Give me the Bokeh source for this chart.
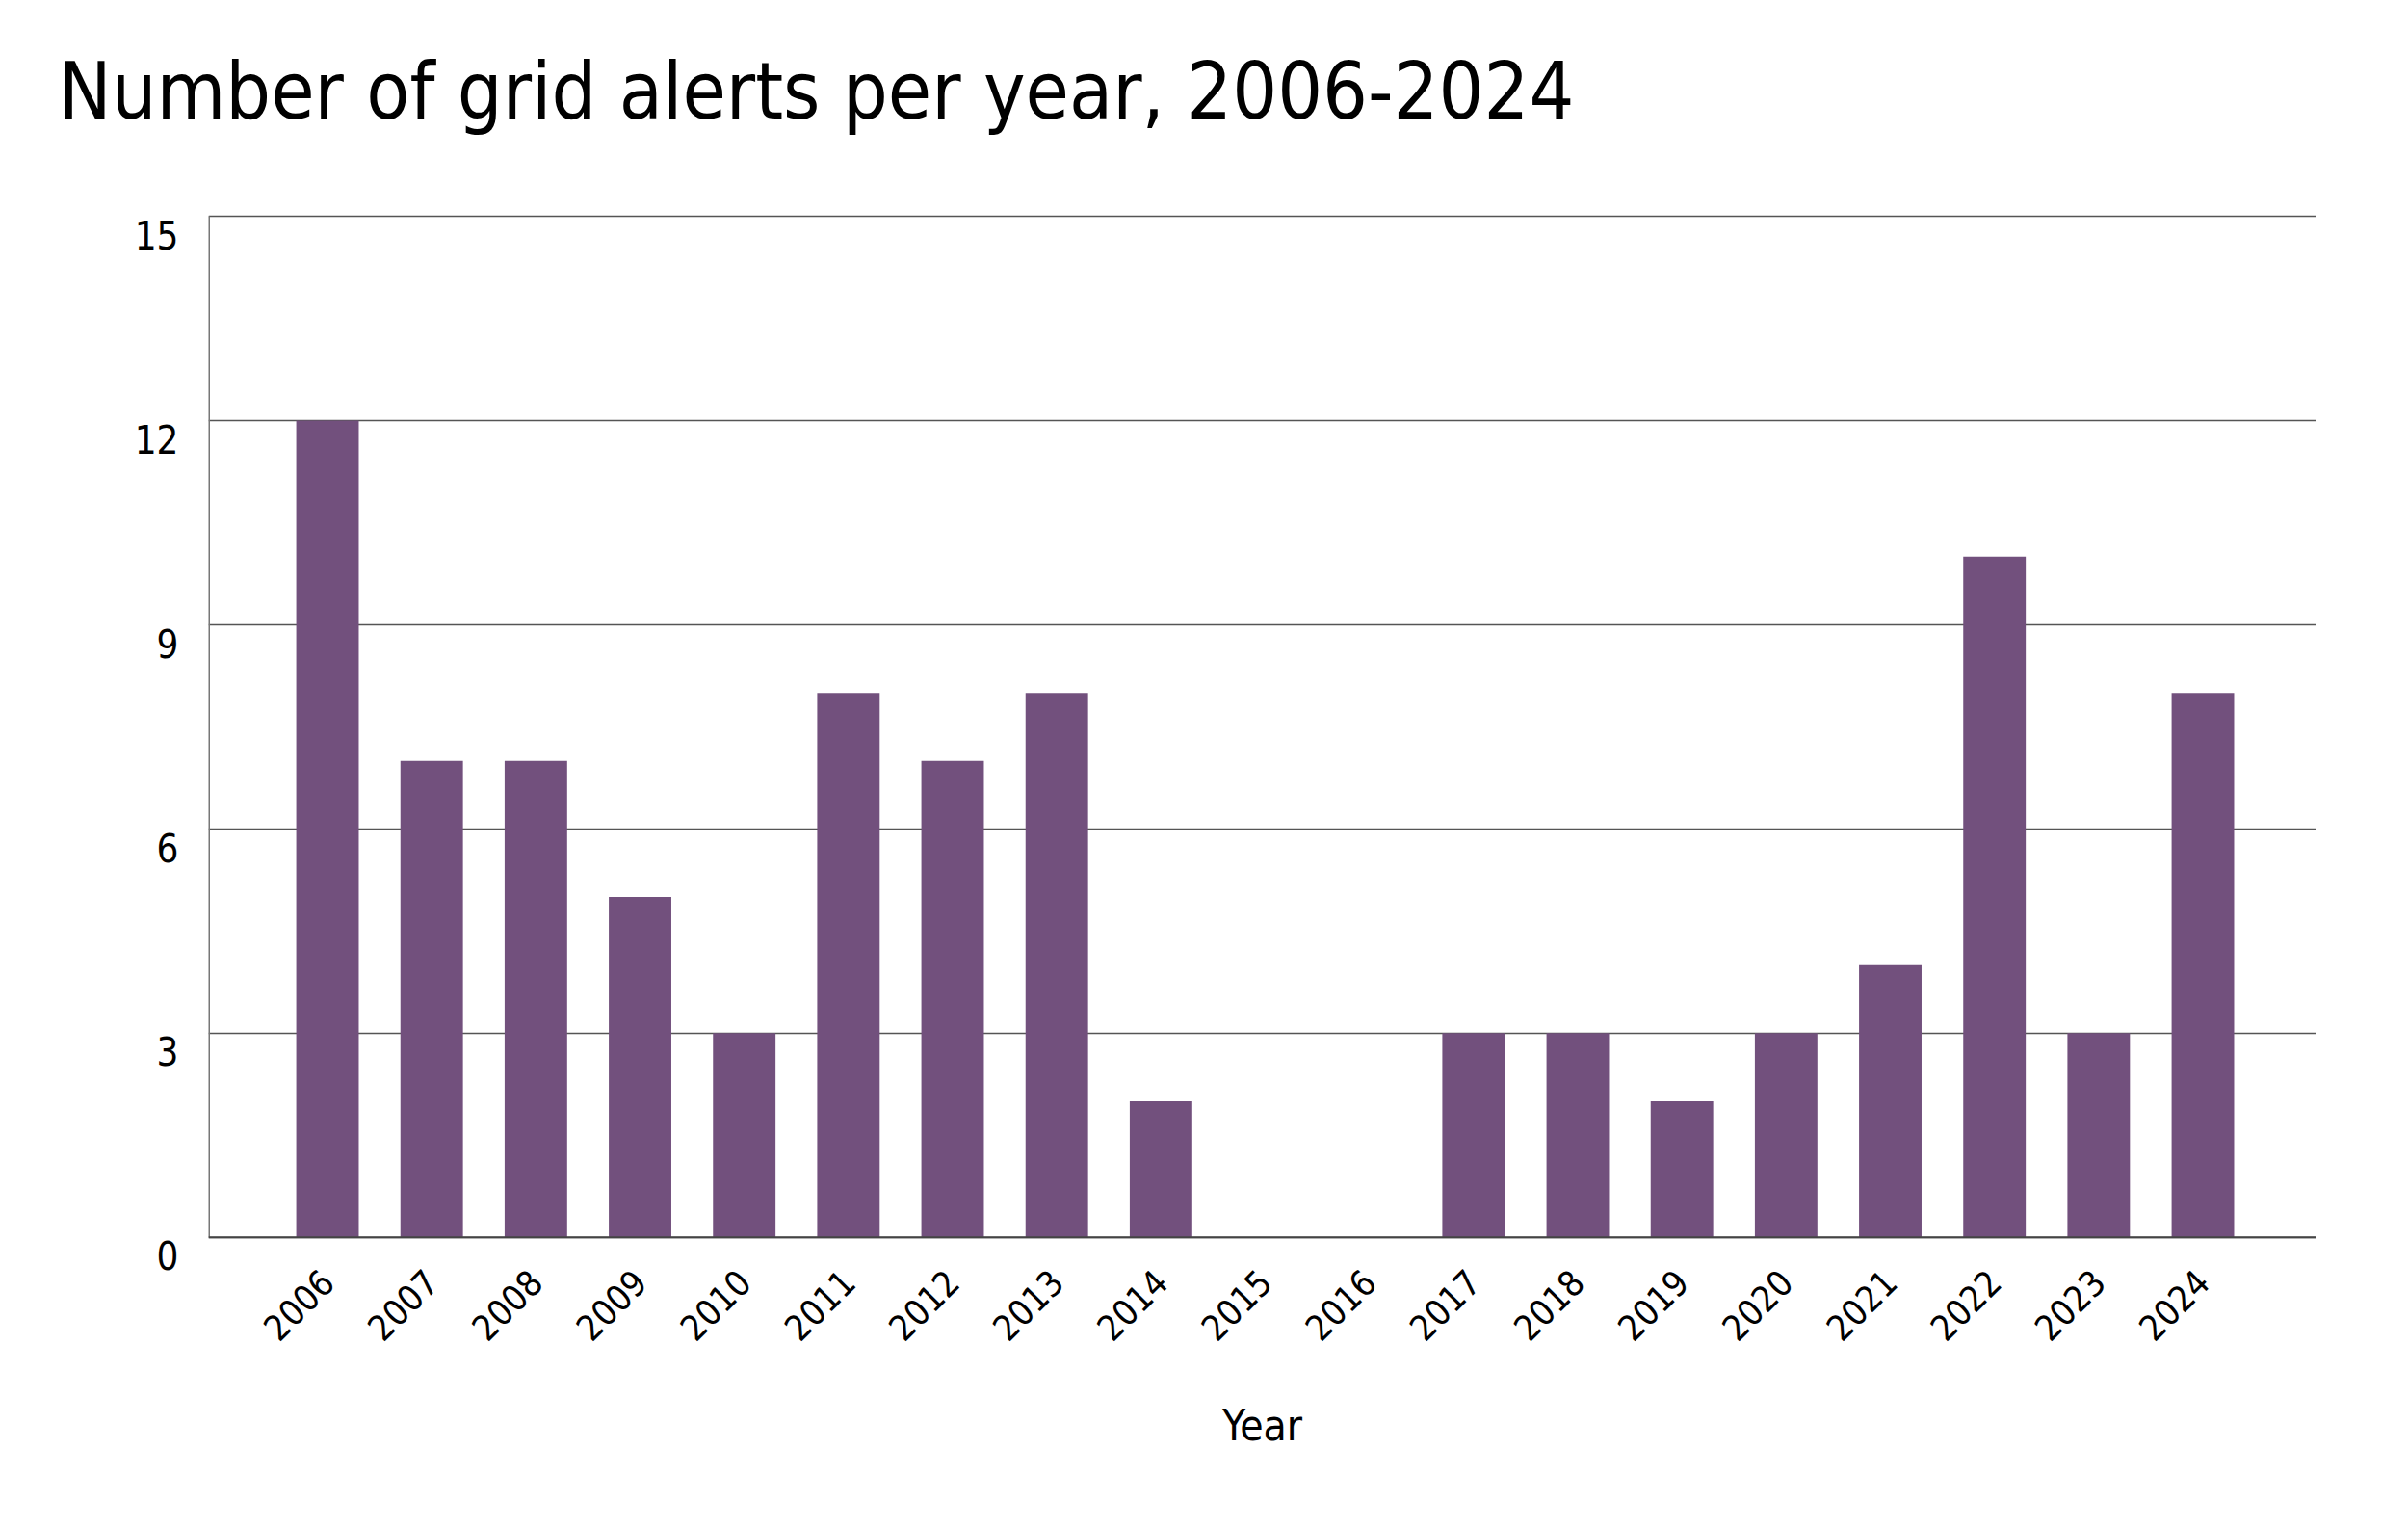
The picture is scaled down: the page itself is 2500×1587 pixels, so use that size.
import math
from bokeh.plotting import figure
from bokeh.models import Range1d, FixedTicker, Span
from bokeh.embed import file_html
from bokeh.resources import INLINE

years = [2006, 2007, 2008, 2009, 2010, 2011, 2012, 2013, 2014, 2015,
         2016, 2017, 2018, 2019, 2020, 2021, 2022, 2023, 2024]
alerts = [12, 7, 7, 5, 3, 8, 7, 8, 2, 0, 0, 3, 3, 2, 3, 4, 10, 3, 8]
y_ticks = [0, 3, 6, 9, 12, 15]
title_text = "Number of grid alerts per year, 2006-2024"
x_label = "Year"

FONT = "'DejaVu Sans Condensed', 'Liberation Sans Narrow', sans-serif"
BAR = "#72507d"
GRID = "#555555"

X_START, X_END = 2004.858, 2025.086
Y_LABEL_SHIFT = 0.27   # y tick labels sit just below their gridline
Y_BOTTOM, Y_TOP = -0.30, 15.03

p = figure(width=2480, height=1570, output_backend="svg", toolbar_location=None,
           x_range=Range1d(X_START, X_END), y_range=Range1d(Y_BOTTOM, Y_TOP),
           min_border_left=216, min_border_right=76, min_border_top=222,
           min_border_bottom=265)
p.outline_line_color = None
p.background_fill_color = "white"
p.border_fill_color = "white"

p.title.text = title_text
p.title.align = "left"
p.title.vertical_align = "top"
p.title.offset = -156
p.title.text_font = FONT
p.title.text_font_size = "82px"
p.title.text_font_style = "normal"
p.title.text_color = "black"
try:
    p.title.padding = dict(top=45, right=0, bottom=79, left=0)
    p.title.standoff = 0
except Exception:
    p.title.standoff = 102

p.vbar(x=years, top=alerts, width=0.6, bottom=0, fill_color=BAR, line_color=None)

# x axis
xa = p.xaxis[0]
xa.ticker = FixedTicker(ticks=years)
xa.major_label_overrides = {y: str(y) for y in years}
xa.major_label_orientation = math.pi / 4
xa.major_label_text_font = FONT
xa.major_label_text_font_size = "37px"
xa.major_label_text_color = "black"
xa.major_label_standoff = 13
xa.major_tick_line_color = None
xa.minor_tick_line_color = None
xa.axis_line_color = None
xa.axis_label = x_label
xa.axis_label_text_font = FONT
xa.axis_label_text_font_size = "44px"
xa.axis_label_text_font_style = "normal"
xa.axis_label_text_color = "black"
xa.axis_label_standoff = 48

# y axis (labels placed slightly below each gridline)
ya = p.yaxis[0]
ya.ticker = FixedTicker(ticks=[t - Y_LABEL_SHIFT for t in y_ticks])
ya.major_label_overrides = {t - Y_LABEL_SHIFT: str(t) for t in y_ticks}
ya.major_label_text_font = FONT
ya.major_label_text_font_size = "40px"
ya.major_label_text_color = "black"
ya.major_label_standoff = 25
ya.major_tick_line_color = None
ya.minor_tick_line_color = None
ya.axis_line_color = None

p.xgrid.grid_line_color = None
p.ygrid.ticker = FixedTicker(ticks=y_ticks)
p.ygrid.grid_line_color = GRID
p.ygrid.grid_line_width = 1.6

# left axis line from 0 to the top, and baseline at zero
p.segment(x0=[X_START], y0=[0], x1=[X_START], y1=[15], line_color="#777777", line_width=3)
p.add_layout(Span(location=0, dimension="width", line_color="#444444", line_width=2))

open("out.html", "w").write(file_html(p, INLINE))
